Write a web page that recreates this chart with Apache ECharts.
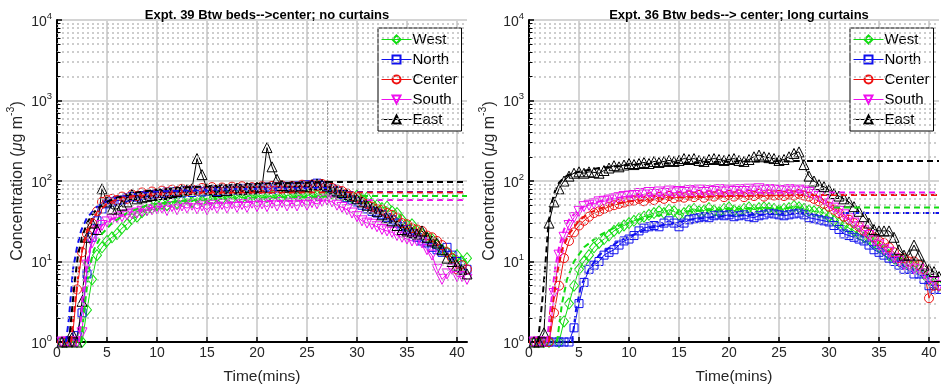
<!DOCTYPE html>
<html>
<head>
<meta charset="utf-8">
<script src="https://cdn.jsdelivr.net/npm/echarts@6/dist/echarts.min.js"></script>
<style>html,body{margin:0;padding:0;background:#fff;}#c{width:941px;height:390px;}</style>
</head>
<body>
<div id="c"></div>
<script>
// ---------- data ----------
const times = [0.5,1,1.5,2,2.5,3,3.5,4,4.5,5,5.5,6,6.5,7,7.5,8,8.5,9,9.5,10,10.5,11,11.5,12,12.5,13,13.5,14,14.5,15,15.5,16,16.5,17,17.5,18,18.5,19,19.5,20,20.5,21,21.5,22,22.5,23,23.5,24,24.5,25,25.5,26,26.5,27,27.5,28,28.5,29,29.5,30,30.5,31,31.5,32,32.5,33,33.5,34,34.5,35,35.5,36,36.5,37,37.5,38,38.5,39,39.5,40,40.5,41];

const seriesNames = ['West','North','Center','South','East'];
const xTickLabels = [0,5,10,15,20,25,30,35,40];
const minorTickValues = [2,3,4,5,6,7,8,9,20,30,40,50,60,70,80,90,200,300,400,500,600,700,800,900,2000,3000,4000,5000,6000,7000,8000,9000];
const titles = ['Expt. 39 Btw beds-->center; no curtains','Expt. 36 Btw beds--> center; long curtains'];
const endTime = [27, 27.6];

// Expt. 39 (left)
const e39West = [1,1,1,1,1,2.5,6,12,15,18,
 20,22,26,29,34,36,41,44,46,50,
 52,50,56,53,57,60,55,62,57,61,
 58,64,60,65,61,66,62,64,67,63,
 67,63,65,68,64,66,69,65,68,66,
 70,66,69,72,70,68,65,64,62,66,
 60,62,52,50,46,48,42,40,33,28,
 29,24,22,20,19,16,14,13,11,12,
 10,11];
const e39North = [1,1,1,1.2,2.3,7,20,32,45,52,
 55,57,58,62,64,63,66,67,68,70,
 70,73,69,74,71,76,72,77,73,75,
 78,74,79,75,80,77,81,78,82,79,
 80,84,79,85,81,86,82,87,84,90,
 88,94,88,85,80,75,68,62,58,55,
 50,45,42,40,38,35,33,30,27,25,
 22,20,18,17,15,14,13,15,12,10,
 8,8];
const e39Center = [1,1,1,4.5,13,22,30,42,55,58,
 60,58,64,60,68,65,72,68,74,70,
 76,72,78,74,80,75,79,76,82,78,
 84,77,83,79,85,80,86,80,84,82,
 86,81,87,83,88,82,87,84,90,83,
 90,86,92,88,82,78,75,70,65,62,
 55,52,48,45,44,40,38,35,30,29,
 26,25,24,21,20,18,16,13,11,8,
 9,8];
const e39South = [1,1,1,1,1.3,9,17,24,28,31,
 33,35,36,38,39,40,42,43,44,45,
 46,43,48,44,49,46,50,45,49,44,
 50,46,51,46,52,47,51,47,53,48,
 52,48,53,49,54,49,53,49,55,50,
 54,52,56,58,55,50,47,44,40,36,
 32,30,29,27,25,24,23,21,20,19,
 18,18,17,14,12,8,6,7,8,6.5,
 6.5,6];
const e39East = [1,1,1.3,1,3.2,20,30,25,80,55,
 45,45,50,55,68,60,62,64,66,68,
 68,70,72,74,78,78,80,190,120,80,
 78,74,80,76,80,82,78,83,80,84,
 84,260,150,105,88,84,86,82,87,85,
 90,92,90,85,80,75,72,68,65,60,
 55,50,46,42,38,35,32,28,25,24,
 23,22,24,20,18,17,14,11,10,9,
 8,7];

// Expt. 36 (right)
const e36West = [1,1,1,1,0.9,1,1.8,3,5,8,
 10,12,15,17,19,21,24,26,28,30,
 32,34,36,38,40,42,40,44,42,38,
 40,43,45,42,43,46,43,41,45,47,
 43,42,45,47,44,46,47,46,45,43,
 45,46,49,47,45,43,42,41,40,36,
 32,30,28,26,24,22,20,19,17,15,
 14,12,11,10,10,9,9,8,7,6,
 5.5,5];
const e36North = [1,1,1,1,1,1,1,1,1.5,3,
 5.5,8,9,10,12,13,14,16,18,19,
 21,24,26,27,28,27,30,32,30,27,
 30,33,34,35,36,35,37,38,37,38,
 36,37,38,36,35,37,38,40,39,38,
 37,38,39,40,38,35,34,33,32,31,
 28,25,22,21,20,19,18,16,14,13,
 12,11,10,9,8,8,7,7,6,5,
 4.5,4.5];
const e36Center = [1,1,1,1,2.3,5,11,18,23,28,
 32,36,40,42,45,48,50,52,54,56,
 57,60,56,62,58,63,60,65,61,64,
 62,66,63,67,62,66,64,68,63,67,
 64,68,63,67,65,69,64,68,66,67,
 65,68,66,69,66,64,60,56,52,48,
 44,40,36,33,30,27,24,22,20,18,
 17,15,13,11,11,10,10,9,8,3.5,
 5,5];
const e36South = [1,1,1,0.9,4,12,20,28,35,42,
 48,50,52,55,56,58,60,62,64,65,
 66,70,67,72,68,73,70,75,71,74,
 72,76,73,77,72,76,74,78,73,77,
 74,78,74,79,75,80,76,78,77,76,
 75,78,75,77,75,72,68,64,58,52,
 46,42,38,34,30,27,24,21,18,16,
 14,13,11,10,9,9,8,8,7,6,
 5.5,5];
const e36East = [1,1,1.3,30,55,80,100,115,125,130,
 125,130,128,125,135,145,155,150,158,165,
 160,165,170,165,175,170,175,180,175,180,
 190,185,190,180,175,185,190,185,180,185,
 190,180,175,185,200,210,200,195,190,180,
 185,200,220,230,160,115,100,90,85,78,
 70,65,60,55,48,42,36,30,25,24,
 24,24,20,14,12,12,16,12,9,8,
 7.5,6.5];

// dashed fit curves [time, value]
const fit39West = [[2.4,1],[2.8,3],[3.2,8],[3.7,14],[4.5,22],[5.5,30],[7,40],[9,50],[12,56],[16,60],[20,62],[27,64]];
const fit39North = [[0.9,1],[1.2,2],[1.6,8],[2,15],[2.4,24],[3,35],[4,48],[5,56],[6,62],[8,70],[10,74],[15,78],[20,80],[27,82]];
const fit39Center = [[1.4,1],[1.8,3],[2.2,8],[2.6,16],[3,24],[3.5,33],[4,40],[5,52],[6,60],[8,66],[10,69],[15,71],[27,72]];
const fit39South = [[2.2,1],[2.6,4],[3,10],[3.5,18],[4,25],[5,32],[7,40],[10,48],[15,53],[20,56],[27,58]];
const fit39East = [[1.2,1],[1.5,2.5],[1.8,6],[2.1,12],[2.5,20],[3,30],[3.5,38],[4,45],[5,55],[6,62],[8,72],[10,78],[15,86],[20,92],[27,97]];
const fit36West = [[2.8,1],[3.3,3],[3.8,6],[4.5,10],[5.5,15],[7,21],[9,28],[12,36],[16,42],[20,45],[27.5,47]];
const fit36North = [[4.3,1],[4.7,2.5],[5.2,5],[6,8],[7,12],[9,18],[12,26],[16,33],[20,37],[27.5,40]];
const fit36Center = [[2,1],[2.4,3],[2.8,7],[3.3,14],[4,22],[5,32],[6,40],[8,50],[10,56],[15,62],[20,65],[27.5,67]];
const fit36South = [[1.8,1],[2.2,3],[2.6,8],[3,15],[3.5,25],[4,33],[5,45],[6,52],[8,60],[10,64],[15,68],[20,70],[27.5,72]];
const fit36East = [[0.9,1],[1.3,3],[1.6,8],[1.9,25],[2.2,50],[2.6,75],[3,95],[3.5,110],[4,120],[5,130],[7,145],[10,158],[15,168],[20,174],[27.5,177]];

// steady-state levels [start time, level]
const ss39 = {West:[30.5,65], North:[29,73], Center:[29,72], South:[31,58], East:[27,97]};
const ss36 = {West:[30.5,47], North:[31.4,40], Center:[28.2,67], South:[30,72], East:[27.8,177]};

// ---------- styles ----------
const colors = {West:'#11dd11', North:'#1010ee', Center:'#ee1111', South:'#ee10ee', East:'#000000'};
const symbols = {West:'diamond', North:'rect', Center:'circle', South:'triangle', East:'triangle'};
const rotates = {West:0, North:0, Center:0, South:180, East:0};
const symSizes = {West:[9,11], North:8, Center:9, South:10, East:10};

const FONT = 'Liberation Sans, Arial, sans-serif';
const dataSets = [
  {West:e39West, North:e39North, Center:e39Center, South:e39South, East:e39East},
  {West:e36West, North:e36North, Center:e36Center, South:e36South, East:e36East}
];
const fitSets = [
  {West:fit39West, North:fit39North, Center:fit39Center, South:fit39South, East:fit39East},
  {West:fit36West, North:fit36North, Center:fit36Center, South:fit36South, East:fit36East}
];
const ssSets = [ss39, ss36];

const gridLefts = [57, 529];
const series = [];
const grids = [], xAxes = [], yAxes = [], titleOpts = [], legends = [];

for (let g = 0; g < 2; g++) {
  grids.push({left: gridLefts[g], top: 20, width: 410, height: 323});
  xAxes.push({
    type:'value', gridIndex:g, min:0, max:41, interval:5,
    name:'Time(mins)', nameLocation:'middle', nameGap:27,
    nameTextStyle:{fontFamily:FONT, fontSize:15.5, color:'#262626'},
    axisLine:{show:true, onZero:false, lineStyle:{color:'#000', width:2}},
    axisTick:{show:true, inside:true, length:5, lineStyle:{color:'#000', width:1.5}},
    axisLabel:{fontFamily:FONT, fontSize:14, color:'#262626', margin:4, showMaxLabel:false,
      formatter: v => xTickLabels.indexOf(v) >= 0 ? String(v) : ''},
    splitLine:{show:true, showMaxLine:false, lineStyle:{color:'#d4d4d4', width:2}}
  });
  yAxes.push({
    type:'log', logBase:10, gridIndex:g, min:1, max:10000,
    name:'{a|Concentration (}{m|μ}{a|g m}{s|-3}{a|)}', nameLocation:'middle', nameGap:31, nameRotate:90,
    nameTextStyle:{rich:{
      a:{fontFamily:FONT, fontSize:16, color:'#262626', lineHeight:20, verticalAlign:'bottom'},
      m:{fontFamily:FONT, fontSize:16, fontStyle:'italic', color:'#262626', lineHeight:20, verticalAlign:'bottom'},
      s:{fontFamily:FONT, fontSize:10.5, color:'#262626', lineHeight:20, verticalAlign:'top'}
    }},
    axisLine:{show:true, lineStyle:{color:'#000', width:2}},
    axisTick:{show:true, inside:true, length:5, lineStyle:{color:'#000', width:1.5}},
    axisLabel:{margin:5, formatter: v => '{b|10}{s|' + Math.round(Math.log10(v)) + '}',
      rich:{
        b:{fontFamily:FONT, fontSize:14, color:'#262626', lineHeight:18, verticalAlign:'bottom'},
        s:{fontFamily:FONT, fontSize:9.5, color:'#262626', lineHeight:18, verticalAlign:'top'}
      }},
    splitLine:{show:true, lineStyle:{color:'#d4d4d4', width:2}}
  });
  titleOpts.push({text: titles[g], left: gridLefts[g] + 205, top: 4, textAlign:'center',
    textStyle:{fontFamily:FONT, fontSize:13, fontWeight:'bold', color:'#000'}});
  legends.push({
    data: seriesNames,
    orient:'vertical', left: gridLefts[g] + 321, top: 28,
    itemWidth: 30, itemHeight: 10, itemGap: 5, padding:[4,4,4,3],
    backgroundColor:'#fff', borderColor:'#000', borderWidth:1,
    lineStyle:{type:'solid', width:1},
    textStyle:{fontFamily:FONT, fontSize:15, color:'#000', padding:[0,0,0,-4]},
    selectedMode:false
  });

  // minor grid + minor ticks + end-of-release marker
  series.push({
    type:'line', name:'_grid'+g, xAxisIndex:g, yAxisIndex:g, data:[], silent:true, z:1,
    markLine:{silent:true, symbol:['none','none'], animation:false, label:{show:false},
      lineStyle:{color:'#bdbdbd', type:[2,3], width:1.6},
      data: minorTickValues.map(v => ({yAxis:v}))}
  });
  series.push({
    type:'line', name:'_ticks'+g, xAxisIndex:g, yAxisIndex:g, data:[], silent:true, z:6,
    markLine:{silent:true, symbol:['none','none'], animation:false, label:{show:false},
      lineStyle:{color:'#000', type:'solid', width:1},
      data: minorTickValues.map(v => [{coord:[0,v]},{coord:[0.35,v]}]).concat(
        [[{coord:[endTime[g],10], lineStyle:{color:'#555', type:[1,2], width:1}},{coord:[endTime[g],1000]}]])}
  });

  seriesNames.forEach(n => {
    const vals = dataSets[g][n];
    const pts = times.map((t,i) => [t, vals[i]]);
    series.push({
      type:'line', name:n, xAxisIndex:g, yAxisIndex:g, data: pts,
      symbol: symbols[n], symbolRotate: rotates[n], symbolSize: symSizes[n], showSymbol:false,
      lineStyle:{color:colors[n], width:1, type:'solid'},
      itemStyle:{color:'rgba(255,255,255,0)', borderColor:colors[n], borderWidth:1},
      z: 3, animation:false, silent:true
    });
    series.push({
      type:'scatter', name:'mk'+n+g, xAxisIndex:g, yAxisIndex:g, data: pts,
      symbol: symbols[n], symbolRotate: rotates[n], symbolSize: symSizes[n],
      itemStyle:{color:'rgba(255,255,255,0)', borderColor:colors[n], borderWidth:1, opacity:1},
      z: 3, animation:false, silent:true, clip:true
    });
  });
  ['North','West','South','Center','East'].forEach(n => {
    const c = colors[n];
    series.push({
      type:'line', name:'fit'+n+g, xAxisIndex:g, yAxisIndex:g, data: fitSets[g][n],
      symbol:'none', lineStyle:{color:c, width:2, type:[6,4]}, z:4, silent:true, animation:false
    });
    const ss = ssSets[g][n];
    series.push({
      type:'line', name:'ss'+n+g, xAxisIndex:g, yAxisIndex:g, data: [[ss[0], ss[1]],[41, ss[1]]],
      symbol:'none', lineStyle:{color:c, width:2, type:[6,4]}, z:4, silent:true, animation:false
    });
  });
}

const chart = echarts.init(document.getElementById('c'), null, {renderer:'canvas'});
chart.setOption({
  animation:false,
  backgroundColor:'#fff',
  title: titleOpts,
  grid: grids,
  xAxis: xAxes,
  yAxis: yAxes,
  legend: legends,
  series: series
});
</script>
</body>
</html>
